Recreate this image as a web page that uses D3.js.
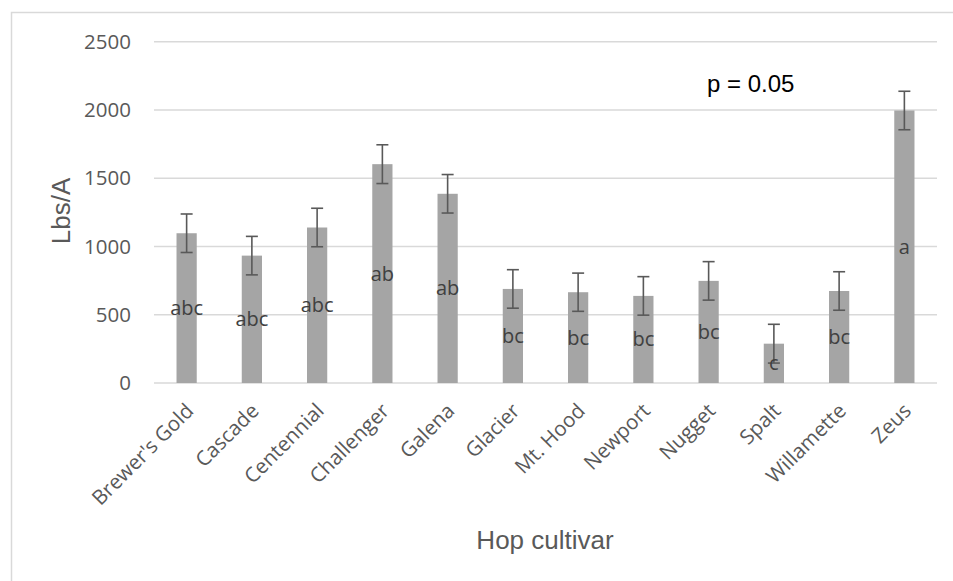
<!DOCTYPE html>
<html>
<head>
<meta charset="utf-8">
<title>Hop yield by cultivar</title>
<script src="https://d3js.org/d3.v7.min.js"></script>
<style>
  body { margin: 0; background: #fff; }
  svg text { font-family: "Open Sans", sans-serif; }
  svg text.title { font-family: "Liberation Sans", Arial, sans-serif; }
</style>
</head>
<body>
<svg id="chart" width="953" height="581"></svg>
<script>
const cultivars = ["Brewer's Gold", "Cascade", "Centennial", "Challenger", "Galena", "Glacier",
                   "Mt. Hood", "Newport", "Nugget", "Spalt", "Willamette", "Zeus"];
const yields = [1097, 933, 1139, 1603, 1386, 689, 665, 638, 748, 288, 674, 1996];
const errors = [141, 141, 141, 142, 141, 141, 140, 141, 141, 142, 141, 141];
const letters = ["abc", "abc", "abc", "ab", "ab", "bc", "bc", "bc", "bc", "c", "bc", "a"];
const yTicks = [0, 500, 1000, 1500, 2000, 2500];

const svg = d3.select("#chart");
const plotLeft = 154, plotRight = 937, plotTop = 41.7, plotBottom = 383;

// outer chart border (runs off the right and bottom edge)
svg.append("rect")
  .attr("x", 11.5).attr("y", 12.5)
  .attr("width", 960).attr("height", 600)
  .attr("fill", "none").attr("stroke", "#d9d9d9").attr("stroke-width", 1.5);

const x = d3.scaleBand().domain(cultivars).range([plotLeft, plotRight]).paddingInner(0.69).paddingOuter(0.345);
const y = d3.scaleLinear().domain([0, 2500]).range([plotBottom, plotTop]);

// gridlines
svg.append("g").selectAll("line")
  .data(yTicks)
  .join("line")
  .attr("x1", plotLeft).attr("x2", plotRight)
  .attr("y1", d => y(d)).attr("y2", d => y(d))
  .attr("stroke", "#d9d9d9").attr("stroke-width", 1.5);

// y axis labels
const yAxis = d3.axisLeft(y).tickValues(yTicks).tickFormat(d3.format("d")).tickSize(0).tickPadding(23);
svg.append("g")
  .attr("transform", "translate(" + plotLeft + ",0)")
  .call(yAxis)
  .call(g => g.select(".domain").remove())
  .call(g => g.selectAll("text").attr("fill", "#595959").style("font-size", "20.5px")
    .style("font-family", "'Open Sans', sans-serif"));

// bars
svg.append("g").selectAll("rect")
  .data(yields)
  .join("rect")
  .attr("x", (d, i) => x(cultivars[i]))
  .attr("width", x.bandwidth())
  .attr("y", d => y(d))
  .attr("height", d => y(0) - y(d))
  .attr("fill", "#a5a5a5");

// error bars
const eb = svg.append("g").attr("stroke", "#595959").attr("stroke-width", 1.6);
yields.forEach((v, i) => {
  const cx = x(cultivars[i]) + x.bandwidth() / 2;
  const lo = y(v - errors[i]), hi = y(v + errors[i]);
  eb.append("line").attr("x1", cx).attr("x2", cx).attr("y1", lo).attr("y2", hi);
  eb.append("line").attr("x1", cx - 6).attr("x2", cx + 6).attr("y1", lo).attr("y2", lo);
  eb.append("line").attr("x1", cx - 6).attr("x2", cx + 6).attr("y1", hi).attr("y2", hi);
});

// significance letters, centred in each bar
svg.append("g").selectAll("text")
  .data(letters)
  .join("text")
  .attr("x", (d, i) => x(cultivars[i]) + x.bandwidth() / 2)
  .attr("y", (d, i) => (y(0) + y(yields[i])) / 2)
  .attr("dy", "0.35em")
  .attr("text-anchor", "middle")
  .attr("fill", "#404040")
  .style("font-size", "20px")
  .text(d => d);

// category labels, rotated
svg.append("g").selectAll("text")
  .data(cultivars)
  .join("text")
  .attr("transform", d => "translate(" + (x(d) + x.bandwidth() / 2 - 2) + ",402) rotate(-45)")
  .attr("text-anchor", "end")
  .attr("dy", "0.7em")
  .attr("fill", "#595959")
  .style("font-size", "20.5px")
  .text(d => d);

// axis titles
svg.append("text")
  .attr("class", "title")
  .attr("transform", "translate(70,211) rotate(-90)")
  .attr("text-anchor", "middle")
  .attr("fill", "#595959")
  .style("font-size", "26px")
  .text("Lbs/A");

svg.append("text")
  .attr("class", "title")
  .attr("x", 545).attr("y", 549)
  .attr("text-anchor", "middle")
  .attr("fill", "#595959")
  .style("font-size", "26px")
  .text("Hop cultivar");

svg.append("text")
  .attr("class", "title")
  .attr("x", 707).attr("y", 92)
  .attr("fill", "#000")
  .style("font-size", "24px")
  .text("p = 0.05");
</script>
</body>
</html>
